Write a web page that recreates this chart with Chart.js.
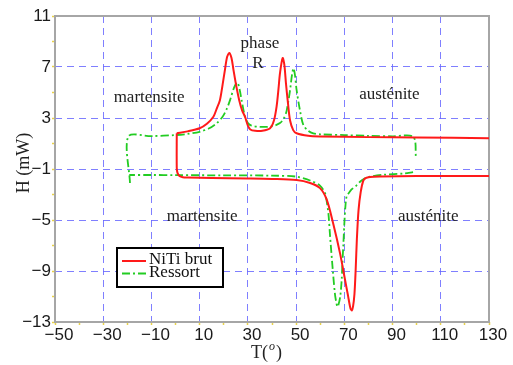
<!DOCTYPE html>
<html>
<head>
<meta charset="utf-8">
<script src="https://cdn.jsdelivr.net/npm/chart.js@4.4.0/dist/chart.umd.min.js"></script>
<style>
  html, body { margin: 0; padding: 0; background: #fff; }
  canvas { display: block; }
</style>
</head>
<body>
<canvas id="dsc" width="513" height="365"></canvas>
<script>
// Labelled tick values on each axis
const xTicks = [-50, -30, -10, 10, 30, 50, 70, 90, 110, 130];
const yTicks = [-13, -9, -5, -1, 3, 7, 11];

const seriesNames = ['NiTi brut', 'Ressort'];

// NiTi brut: upper branch left to right, then (after the break) lower branch right to left
const nitiT = [0.5, 5, 10, 13, 15.7, 17, 18.4, 19.5, 20.5, 21.4, 22.3, 23.2, 24, 25.2, 26.4, 27.6, 28.8, 30, 31, 33, 36, 39.2, 40.8, 41.9, 42.7, 43.3, 44.4, 45.1, 45.8, 46.6, 47.5, 48.8, 50.2, 55, 60, 80, 100, 130, null,
  130, 100, 85, 80.6, 78.8, 77.8, 76.8, 75.9, 75.2, 74.7, 74.2, 73.6, 73.1, 72.5, 71.5, 70.3, 68.2, 65.4, 62.7, 59.9, 55.8, 50.2, 40, 30, 15, 5, 3, 1.6, 0.8, 0.5, 0.5];
const nitiH = [1.8, 1.95, 2.2, 2.55, 3.1, 3.7, 4.4, 5.6, 6.8, 7.8, 8.1, 7.7, 6.8, 5.5, 4.4, 3.6, 3.1, 2.4, 2.1, 2.0, 2.0, 2.2, 2.8, 3.9, 5.3, 6.5, 7.7, 7.2, 5.7, 4.2, 2.8, 2.05, 1.8, 1.6, 1.55, 1.5, 1.47, 1.42, null,
  -1.55, -1.55, -1.58, -1.62, -1.72, -1.95, -2.8, -4.2, -6.5, -8.9, -10.8, -11.8, -12.1, -11.9, -10.9, -9.7, -7.6, -5.3, -3.4, -2.5, -2.1, -1.87, -1.78, -1.74, -1.7, -1.67, -1.65, -1.55, -1.3, -0.9, 1.8];

// Ressort: left tail, upper branch, right drop, then lower branch back to the left
const ressortT = [-18.9, -19.6, -10, 0, 5, 10, 14, 17, 19.5, 21.2, 22.6, 24.3, 25.6, 26.5, 27.4, 28.2, 28.8, 30, 31.5, 35, 40, 43.3, 45, 46.1, 47.5, 48.3, 48.9, 49.5, 50.2, 51.6, 53, 55, 57.1, 60, 70, 80, 90, 98.6, 99.7, null,
  98.5, 95, 86.2, 80.6, 77.9, 76.5, 75, 73, 71.8, 71, 70.5, 70, 69.6, 69.2, 68.9, 68.3, 67.5, 67.1, 66.6, 66.1, 65.2, 64.1, 63.4, 62.5, 62, 59.9, 55.8, 50.2, 40, 20, 0, -10, -19.2];
const ressortH = [-2.1, 1.55, 1.58, 1.66, 1.75, 1.92, 2.2, 2.58, 3.1, 3.7, 4.4, 5.4, 5.8, 5.3, 4.4, 3.6, 3.1, 2.6, 2.4, 2.3, 2.35, 2.6, 3.0, 3.6, 5.2, 6.4, 6.9, 6.4, 5.2, 3.6, 2.45, 2.0, 1.8, 1.72, 1.66, 1.6, 1.56, 1.52, -0.1, null,
  -1.25, -1.35, -1.45, -1.6, -1.8, -2.0, -2.3, -2.6, -2.9, -3.1, -3.8, -5.3, -6.9, -8.4, -9.7, -11.0, -11.7, -11.8, -11.4, -10.8, -8.9, -6.3, -4.5, -3.3, -2.9, -2.3, -1.9, -1.6, -1.52, -1.5, -1.48, -1.47, -1.47];

function toPoints(xs, ys) {
  return xs.map((x, i) => (ys[i] === null ? { x: xs[i - 1], y: null } : { x: x, y: ys[i] }));
}

const fmt = v => (v < 0 ? '\u2212' + Math.abs(v) : String(v));
const serif = '"Liberation Serif", "Times New Roman", serif';
const sans = '"Liberation Sans", Arial, sans-serif';
const gridBlue = 'rgba(105, 105, 255, 0.85)';
const minorTick = '#e8d24a';

// Phase annotations, anchored in data coordinates
const notes = [
  { text: 'martensite', t: -11.0, h: 4.6 },
  { text: 'austénite', t: 88.7, h: 4.85 },
  { text: 'phase', t: 35.0, h: 8.85 },
  { text: 'R', t: 34.2, h: 7.25 },
  { text: 'martensite', t: 11.0, h: -4.75 },
  { text: 'austénite', t: 104.8, h: -4.75 }
];

const decor = {
  id: 'decor',
  beforeDatasetsDraw(chart) {
    const { ctx, chartArea: a } = chart;
    ctx.save();
    ctx.strokeStyle = '#a6a6a6';
    ctx.lineWidth = 2;
    ctx.strokeRect(a.left, a.top, a.right - a.left, a.bottom - a.top);
    ctx.restore();
  },
  afterDatasetsDraw(chart) {
    const { ctx, chartArea: a, scales } = chart;
    const sx = scales.x, sy = scales.y;
    ctx.save();
    ctx.fillStyle = '#222';
    ctx.font = '17px ' + serif;
    ctx.textAlign = 'center';
    ctx.textBaseline = 'middle';
    notes.forEach(n => ctx.fillText(n.text, sx.getPixelForValue(n.t), sy.getPixelForValue(n.h)));

    // Legend box
    const bx = a.left + 62, by = a.top + 232, bw = 106, bh = 39;
    ctx.fillStyle = '#fff';
    ctx.fillRect(bx, by, bw, bh);
    ctx.strokeStyle = '#000';
    ctx.lineWidth = 2;
    ctx.strokeRect(bx, by, bw, bh);
    chart.data.datasets.forEach((ds, i) => {
      const ly = by + 13 + i * 12.5;
      ctx.strokeStyle = ds.borderColor;
      ctx.lineWidth = ds.borderWidth;
      ctx.setLineDash(ds.borderDash || []);
      ctx.beginPath();
      ctx.moveTo(bx + 5, ly);
      ctx.lineTo(bx + 29, ly);
      ctx.stroke();
      ctx.setLineDash([]);
      ctx.fillStyle = '#111';
      ctx.textAlign = 'left';
      ctx.font = '17px ' + serif;
      ctx.fillText(ds.label, bx + 32, ly - 1);
    });

    // Axis titles
    ctx.fillStyle = '#222';
    ctx.font = '18px ' + serif;
    ctx.textAlign = 'center';
    ctx.save();
    ctx.translate(24, (a.top + a.bottom) / 2 - 6);
    ctx.rotate(-Math.PI / 2);
    ctx.fillText('H (mW)', 0, 0);
    ctx.restore();

    const tx = (a.left + a.right) / 2 - 6, ty = 353;
    ctx.textAlign = 'left';
    ctx.font = '18px ' + serif;
    const w1 = ctx.measureText('T(').width;
    ctx.fillText('T(', tx - 15, ty);
    ctx.font = 'italic 12px ' + serif;
    const w2 = ctx.measureText('o').width;
    ctx.fillText('o', tx - 15 + w1 + 1, ty - 6);
    ctx.font = '18px ' + serif;
    ctx.fillText(')', tx - 15 + w1 + w2 + 2, ty);
    ctx.restore();
  }
};

function everyStep(from, to, step) {
  const out = [];
  for (let v = from; v <= to + 1e-9; v += step) out.push({ value: v });
  return out;
}

new Chart(document.getElementById('dsc'), {
  type: 'line',
  data: {
    datasets: [
      {
        label: seriesNames[0],
        data: toPoints(nitiT, nitiH),
        borderColor: '#ff1a1a',
        borderWidth: 2,
        pointRadius: 0,
        tension: 0.3,
        fill: false,
        spanGaps: false
      },
      {
        label: seriesNames[1],
        data: toPoints(ressortT, ressortH),
        borderColor: '#22cc22',
        borderWidth: 1.8,
        borderDash: [8, 3, 2, 3],
        pointRadius: 0,
        tension: 0.3,
        fill: false,
        spanGaps: false
      }
    ]
  },
  options: {
    responsive: false,
    animation: false,
    devicePixelRatio: 1,
    layout: { padding: { top: 16, right: 24, left: 0, bottom: 0 } },
    plugins: { legend: { display: false }, tooltip: { enabled: false } },
    scales: {
      x: {
        type: 'linear',
        min: -50,
        max: 130,
        afterBuildTicks: s => { s.ticks = everyStep(-50, 130, 10); },
        afterFit: s => { s.height = 43; },
        ticks: {
          autoSkip: false,
          maxRotation: 0,
          padding: 0,
          labelOffset: 4,
          color: '#1a1a1a',
          font: { family: sans, size: 17 },
          callback: v => (xTicks.includes(v) ? fmt(v) : '')
        },
        grid: {
          color: c => (c.tick && xTicks.includes(c.tick.value) ? gridBlue : 'rgba(0,0,0,0)'),
          lineWidth: 1,
          tickColor: minorTick,
          tickLength: 3,
          tickWidth: 1.5,
          tickBorderDash: []
        },
        border: { display: false, dash: [7, 5] }
      },
      y: {
        type: 'linear',
        min: -13,
        max: 11,
        afterBuildTicks: s => { s.ticks = everyStep(-13, 11, 2); },
        afterFit: s => { s.width = 55; },
        ticks: {
          autoSkip: false,
          padding: 1,
          color: '#1a1a1a',
          font: { family: sans, size: 17 },
          callback: v => (yTicks.includes(v) ? fmt(v) : '')
        },
        grid: {
          color: c => (c.tick && yTicks.includes(c.tick.value) ? gridBlue : 'rgba(0,0,0,0)'),
          lineWidth: 1,
          tickColor: minorTick,
          tickLength: 3,
          tickWidth: 1.5,
          tickBorderDash: []
        },
        border: { display: false, dash: [7, 5] }
      }
    }
  },
  plugins: [decor]
});
</script>
</body>
</html>
